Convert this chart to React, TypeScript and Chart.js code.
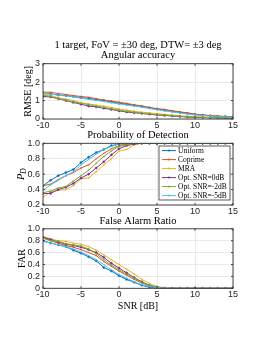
import React, { useEffect, useRef } from 'react';
import { Chart, registerables } from 'chart.js';

Chart.register(...registerables);

const SNR_DB = [-10, -9, -8, -7, -6, -5, -4, -3, -2, -1, 0, 1, 2, 3, 4, 5, 6, 7, 8, 9, 10, 11, 12, 13, 14, 15];

const SERIES_LABELS = ['Uniform', 'Coprime', 'MRA', 'Opt. SNR=0dB', 'Opt. SNR=-2dB', 'Opt. SNR=-5dB'];
const SERIES_COLORS = ['#0072BD', '#D95319', '#EDB120', '#7E2F8E', '#77AC30', '#4DBEEE'];
const SERIES_MARKERS = ['circle', 'crossRot', 'cross', 'circle', 'cross', 'crossRot'];

const TITLE_TOP = ['1 target, FoV = \u00B130 deg, DTW= \u00B13 deg', 'Angular accuracy'];
const TITLE_MID = 'Probability of Detection';
const TITLE_BOT = 'False Alarm Ratio';
const Y_LABEL_TOP = 'RMSE [deg]';
const Y_LABEL_BOT = 'FAR';
const X_LABEL = 'SNR [dB]';

// RMSE [deg]
const RMSE_UNIFORM = [1.40, 1.36, 1.30, 1.27, 1.22, 1.15, 1.12, 1.05, 1.00, 0.93, 0.86, 0.80, 0.74, 0.68, 0.61, 0.54, 0.48, 0.42, 0.36, 0.31, 0.25, 0.21, 0.18, 0.15, 0.13, 0.12];
const RMSE_COPRIME = [1.46, 1.45, 1.38, 1.33, 1.27, 1.22, 1.18, 1.10, 1.03, 0.97, 0.91, 0.85, 0.77, 0.71, 0.63, 0.56, 0.52, 0.45, 0.39, 0.33, 0.27, 0.22, 0.19, 0.16, 0.14, 0.13];
const RMSE_MRA = [1.33, 1.28, 1.15, 1.08, 1.00, 0.88, 0.82, 0.75, 0.70, 0.62, 0.54, 0.48, 0.42, 0.37, 0.33, 0.29, 0.25, 0.21, 0.18, 0.14, 0.12, 0.10, 0.09, 0.08, 0.07, 0.07];
const RMSE_OPT0 = [1.22, 1.20, 1.10, 1.00, 0.90, 0.80, 0.70, 0.66, 0.58, 0.52, 0.44, 0.38, 0.34, 0.30, 0.26, 0.22, 0.19, 0.16, 0.13, 0.11, 0.09, 0.08, 0.07, 0.06, 0.05, 0.05];
const RMSE_OPT2 = [1.30, 1.22, 1.10, 1.02, 0.93, 0.85, 0.78, 0.70, 0.63, 0.56, 0.48, 0.42, 0.37, 0.32, 0.28, 0.24, 0.21, 0.18, 0.15, 0.12, 0.10, 0.09, 0.08, 0.07, 0.06, 0.06];
const RMSE_OPT5 = [1.40, 1.35, 1.30, 1.25, 1.20, 1.13, 1.07, 1.01, 0.95, 0.88, 0.82, 0.76, 0.70, 0.64, 0.57, 0.50, 0.44, 0.38, 0.32, 0.27, 0.22, 0.19, 0.16, 0.14, 0.12, 0.11];

// Probability of detection
const PD_UNIFORM = [0.45, 0.52, 0.58, 0.62, 0.66, 0.75, 0.82, 0.88, 0.92, 0.97, 0.99, 1, 1, 1, 1, 1, 1, 1, 1, 1, 1, 1, 1, 1, 1, 1];
const PD_COPRIME = [0.45, 0.47, 0.53, 0.58, 0.62, 0.68, 0.72, 0.80, 0.87, 0.93, 0.97, 0.99, 1, 1, 1, 1, 1, 1, 1, 1, 1, 1, 1, 1, 1, 1];
const PD_MRA = [0.30, 0.37, 0.39, 0.40, 0.45, 0.54, 0.55, 0.63, 0.72, 0.80, 0.90, 0.92, 0.98, 1, 1, 1, 1, 1, 1, 1, 1, 1, 1, 1, 1, 1];
const PD_OPT0 = [0.35, 0.35, 0.40, 0.43, 0.48, 0.55, 0.60, 0.68, 0.76, 0.85, 0.93, 0.97, 0.99, 1, 1, 1, 1, 1, 1, 1, 1, 1, 1, 1, 1, 1];
const PD_OPT2 = [0.36, 0.38, 0.42, 0.44, 0.51, 0.58, 0.65, 0.74, 0.83, 0.90, 0.96, 0.98, 1, 1, 1, 1, 1, 1, 1, 1, 1, 1, 1, 1, 1, 1];
const PD_OPT5 = [0.39, 0.46, 0.52, 0.58, 0.63, 0.72, 0.79, 0.86, 0.92, 0.96, 0.99, 1, 1, 1, 1, 1, 1, 1, 1, 1, 1, 1, 1, 1, 1, 1];

// False alarm ratio
const FAR_UNIFORM = [0.80, 0.76, 0.73, 0.70, 0.64, 0.59, 0.53, 0.46, 0.35, 0.29, 0.21, 0.15, 0.10, 0.05, 0.02, 0.005, 0, 0, 0, 0, 0, 0, 0, 0, 0, 0];
const FAR_COPRIME = [0.86, 0.80, 0.76, 0.72, 0.69, 0.65, 0.60, 0.55, 0.45, 0.37, 0.29, 0.22, 0.15, 0.09, 0.04, 0.01, 0, 0, 0, 0, 0, 0, 0, 0, 0, 0];
const FAR_MRA = [0.87, 0.83, 0.80, 0.79, 0.76, 0.74, 0.70, 0.64, 0.56, 0.48, 0.40, 0.32, 0.24, 0.15, 0.08, 0.03, 0.01, 0, 0, 0, 0, 0, 0, 0, 0, 0];
const FAR_OPT0 = [0.86, 0.82, 0.78, 0.74, 0.72, 0.69, 0.65, 0.60, 0.52, 0.42, 0.34, 0.26, 0.18, 0.11, 0.05, 0.02, 0, 0, 0, 0, 0, 0, 0, 0, 0, 0];
const FAR_OPT2 = [0.84, 0.80, 0.79, 0.75, 0.73, 0.71, 0.66, 0.58, 0.48, 0.39, 0.31, 0.24, 0.17, 0.10, 0.05, 0.02, 0, 0, 0, 0, 0, 0, 0, 0, 0, 0];
const FAR_OPT5 = [0.79, 0.76, 0.73, 0.70, 0.66, 0.61, 0.55, 0.48, 0.40, 0.31, 0.23, 0.17, 0.11, 0.06, 0.03, 0.01, 0, 0, 0, 0, 0, 0, 0, 0, 0, 0];

const RMSE_SERIES = [RMSE_UNIFORM, RMSE_COPRIME, RMSE_MRA, RMSE_OPT0, RMSE_OPT2, RMSE_OPT5];
const PD_SERIES = [PD_UNIFORM, PD_COPRIME, PD_MRA, PD_OPT0, PD_OPT2, PD_OPT5];
const FAR_SERIES = [FAR_UNIFORM, FAR_COPRIME, FAR_MRA, FAR_OPT0, FAR_OPT2, FAR_OPT5];

const SERIF = '"Liberation Serif", "DejaVu Serif", serif';
const SANS = '"Liberation Sans", Arial, sans-serif';
const AXIS_COLOR = '#333333';
const GRID_COLOR = '#e4e4e4';

const boxPlugin = {
  id: 'matlabBox',
  afterDatasetsDraw(chart: any) {
    const { ctx, chartArea } = chart;
    const { left, right, top, bottom } = chartArea;
    ctx.save();
    ctx.strokeStyle = AXIS_COLOR;
    ctx.lineWidth = 0.9;
    ctx.strokeRect(left, top, right - left, bottom - top);
    const xs = chart.scales.x;
    const ys = chart.scales.y;
    ctx.beginPath();
    xs.ticks.forEach((t: any) => {
      const p = xs.getPixelForValue(t.value);
      ctx.moveTo(p, bottom);
      ctx.lineTo(p, bottom - 2);
      ctx.moveTo(p, top);
      ctx.lineTo(p, top + 2);
    });
    ys.ticks.forEach((t: any) => {
      const p = ys.getPixelForValue(t.value);
      ctx.moveTo(left, p);
      ctx.lineTo(left + 2, p);
      ctx.moveTo(right, p);
      ctx.lineTo(right - 2, p);
    });
    ctx.stroke();
    ctx.restore();
  },
};

const legendPlugin = {
  id: 'insideLegend',
  afterDraw(chart: any, _args: any, opts: any) {
    if (!opts || !opts.show) return;
    const { ctx } = chart;
    const x0 = opts.x;
    const y0 = opts.y;
    const w = opts.w;
    const h = opts.h;
    ctx.save();
    ctx.fillStyle = '#ffffff';
    ctx.fillRect(x0, y0, w, h);
    ctx.strokeStyle = AXIS_COLOR;
    ctx.lineWidth = 0.8;
    ctx.strokeRect(x0, y0, w, h);
    chart.data.datasets.forEach((ds: any, i: number) => {
      const cy = y0 + 4.6 + i * 9;
      ctx.strokeStyle = ds.borderColor;
      ctx.lineWidth = 1;
      ctx.beginPath();
      ctx.moveTo(x0 + 3, cy);
      ctx.lineTo(x0 + 17, cy);
      ctx.stroke();
      ctx.beginPath();
      ctx.arc(x0 + 10, cy, 1, 0, Math.PI * 2);
      ctx.fillStyle = ds.borderColor;
      ctx.fill();
      ctx.fillStyle = '#000000';
      ctx.font = '7.5px ' + SERIF;
      ctx.textBaseline = 'middle';
      ctx.textAlign = 'left';
      ctx.fillText(ds.label, x0 + 19, cy + 0.5);
    });
    ctx.restore();
  },
};

const pdLabelPlugin = {
  id: 'pdLabel',
  afterDraw(chart: any, _args: any, opts: any) {
    if (!opts || !opts.show) return;
    const { ctx, chartArea } = chart;
    const cy = (chartArea.top + chartArea.bottom) / 2;
    ctx.save();
    ctx.translate(opts.x, cy);
    ctx.rotate(-Math.PI / 2);
    ctx.fillStyle = '#000000';
    ctx.textBaseline = 'middle';
    ctx.textAlign = 'left';
    ctx.font = 'italic 10.5px ' + SERIF;
    const wP = ctx.measureText('P').width;
    ctx.font = 'italic 7.5px ' + SERIF;
    const wD = ctx.measureText('D').width;
    const start = -(wP + wD) / 2;
    ctx.font = 'italic 10.5px ' + SERIF;
    ctx.fillText('P', start, 0);
    ctx.font = 'italic 7.5px ' + SERIF;
    ctx.fillText('D', start + wP, 3);
    ctx.restore();
  },
};

type Panel = {
  top: number;
  height: number;
  title: string | string[];
  titlePadTop: number;
  titlePadBottom: number;
  titleLineHeight: string;
  yMin: number;
  yMax: number;
  yStep: number;
  yLabel: string | null;
  yLabelPad: number;
  xLabel: string | null;
  xAxisHeight: number;
  padBottom: number;
  series: number[][];
  legend: boolean;
};

function buildConfig(p: Panel): any {
  const datasets = p.series.map((vals, i) => ({
    label: SERIES_LABELS[i],
    data: SNR_DB.map((x, k) => ({ x, y: vals[k] })),
    borderColor: SERIES_COLORS[i],
    backgroundColor: SERIES_COLORS[i],
    borderWidth: 1,
    pointStyle: SERIES_MARKERS[i],
    pointRadius: 1,
    pointBorderWidth: 0.6,
    pointBorderColor: SERIES_COLORS[i],
    pointBackgroundColor: SERIES_COLORS[i],
    tension: 0,
    fill: false,
    order: SERIES_LABELS.length - 1 - i,
  }));
  return {
    type: 'line',
    data: { datasets },
    options: {
      responsive: false,
      animation: false,
      events: [],
      layout: { padding: { left: 0, right: 38, top: 0, bottom: p.padBottom } },
      plugins: {
        legend: { display: false },
        tooltip: { enabled: false },
        title: {
          display: true,
          fullSize: false,
          text: p.title,
          color: '#000000',
          font: { family: SERIF, size: 10.5, weight: 'normal', lineHeight: p.titleLineHeight },
          padding: { top: p.titlePadTop, bottom: p.titlePadBottom },
        },
        insideLegend: { show: p.legend, x: 159, y: 26, w: 71, h: 54 },
        pdLabel: { show: !p.yLabel, x: 21.5 },
      },
      scales: {
        x: {
          type: 'linear',
          min: -10,
          max: 15,
          ticks: { stepSize: 5, autoSkip: false, color: '#262626', font: { family: SANS, size: 9 }, padding: 1, maxRotation: 0 },
          grid: { color: GRID_COLOR, lineWidth: 0.8, drawTicks: false },
          border: { display: false },
          title: {
            display: !!p.xLabel,
            text: p.xLabel || '',
            color: '#000000',
            font: { family: SERIF, size: 10 },
            padding: { top: 0, bottom: 0.3 },
          },
          afterFit: (s: any) => {
            s.height = p.xAxisHeight;
          },
        },
        y: {
          type: 'linear',
          min: p.yMin,
          max: p.yMax,
          ticks: { stepSize: p.yStep, autoSkip: false, color: '#262626', font: { family: SANS, size: 9 }, padding: 3 },
          grid: { color: GRID_COLOR, lineWidth: 0.8, drawTicks: false },
          border: { display: false },
          title: {
            display: !!p.yLabel,
            text: p.yLabel || '',
            color: '#000000',
            font: { family: SERIF, size: 10 },
            padding: { top: p.yLabelPad, bottom: 0 },
          },
          afterFit: (s: any) => {
            s.width = 43;
          },
        },
      },
    },
    plugins: [boxPlugin, legendPlugin, pdLabelPlugin],
  };
}

const PANELS: Panel[] = [
  {
    top: 0, height: 132, title: TITLE_TOP, titlePadTop: 40.2, titlePadBottom: 3.5, titleLineHeight: '10px',
    yMin: 0, yMax: 3, yStep: 1, yLabel: Y_LABEL_TOP, yLabelPad: 22, xLabel: null, xAxisHeight: 13, padBottom: 0,
    series: RMSE_SERIES, legend: false,
  },
  {
    top: 120, height: 98, title: TITLE_MID, titlePadTop: 10.2, titlePadBottom: 2.1, titleLineHeight: '11px',
    yMin: 0.2, yMax: 1, yStep: 0.2, yLabel: null, yLabelPad: 0, xLabel: null, xAxisHeight: 13, padBottom: 0,
    series: PD_SERIES, legend: true,
  },
  {
    top: 210, height: 141, title: TITLE_BOT, titlePadTop: 6.2, titlePadBottom: 1.6, titleLineHeight: '11px',
    yMin: 0, yMax: 1, yStep: 0.2, yLabel: Y_LABEL_BOT, yLabelPad: 16.4, xLabel: X_LABEL, xAxisHeight: 24, padBottom: 38.7,
    series: FAR_SERIES, legend: false,
  },
];

function PanelChart({ panel }: { panel: Panel }) {
  const ref = useRef<HTMLCanvasElement | null>(null);
  useEffect(() => {
    if (!ref.current) return;
    const chart = new Chart(ref.current, buildConfig(panel));
    return () => chart.destroy();
  }, [panel]);
  return (
    <canvas
      ref={ref}
      width={271}
      height={panel.height}
      style={{ position: 'absolute', left: 0, top: panel.top, width: 271, height: panel.height }}
    />
  );
}

export default function App() {
  return (
    <div style={{ position: 'absolute', left: 0, top: 0, width: 271, height: 351, background: '#ffffff' }}>
      {PANELS.map((p, i) => (
        <PanelChart key={i} panel={p} />
      ))}
    </div>
  );
}
